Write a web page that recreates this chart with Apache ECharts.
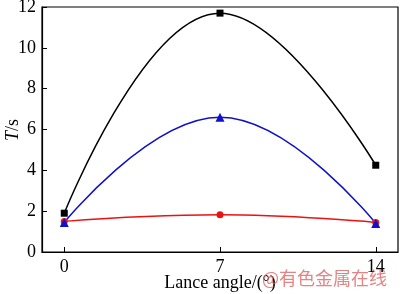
<!DOCTYPE html>
<html><head><meta charset="utf-8">
<script src="https://cdn.jsdelivr.net/npm/echarts@6/dist/echarts.min.js"></script>
<style>html,body{margin:0;padding:0;background:#fff}#c{width:400px;height:294px}</style>
</head><body><div id="c"></div>
<script>
var angles = [0, 7, 14];
var blackT = [1.9, 11.7, 4.25];
var blueT = [1.45, 6.6, 1.4];
var redT = [1.5, 1.82, 1.45];
var xTicks = [0, 7, 14];
var xName = 'Lance angle/(°)';
var watermark = '@有色金属在线';

function pairs(ys){ return angles.map(function(a,i){ return [a, ys[i]]; }); }
var font = 'Liberation Serif';
var chart = echarts.init(document.getElementById('c'));
chart.setOption({
  animation: false,
  grid: {left: 42, right: 2, top: 7, bottom: 42, show: true, borderColor: '#000', borderWidth: 1.2,
    containLabel: false, outerBoundsMode: 'none'},
  xAxis: {
    type: 'value', min: -1, max: 15,
    axisLine: {show: true, onZero: false, lineStyle: {color: '#000', width: 1.2}},
    axisTick: {show: true, inside: true, length: 5, lineStyle: {color: '#000'},
      customValues: xTicks},
    axisLabel: {fontFamily: font, fontSize: 18, color: '#000', margin: 6, customValues: xTicks},
    splitLine: {show: false}
  },
  yAxis: {
    type: 'value', min: 0, max: 12, interval: 2,
    axisLine: {show: true, onZero: false, lineStyle: {color: '#000', width: 1.2}},
    axisTick: {show: true, inside: true, length: 5, lineStyle: {color: '#000'}},
    axisLabel: {fontFamily: font, fontSize: 18, color: '#000', margin: 6},
    splitLine: {show: false}
  },
  series: [
    {type: 'line', data: pairs(blackT), smooth: 0.45, symbol: 'rect', symbolSize: 7,
      lineStyle: {color: '#000', width: 1.5}, itemStyle: {color: '#000'}},
    {type: 'line', data: pairs(redT), smooth: 0.45, symbol: 'circle', symbolSize: 7,
      lineStyle: {color: '#ee1111', width: 1.5}, itemStyle: {color: '#ee1111'}},
    {type: 'line', data: pairs(blueT), smooth: 0.45, symbol: 'triangle', symbolSize: 9,
      lineStyle: {color: '#1111cc', width: 1.5}, itemStyle: {color: '#1111cc'}}
  ],
  graphic: [
    {type: 'text', x: 220, y: 283,
      style: {text: xName, font: '18px "Liberation Serif"', fill: '#000', align: 'center', verticalAlign: 'middle'}},
    {type: 'text', x: 13, y: 130, rotation: Math.PI / 2,
      style: {text: '{i|T}{n|/s}', align: 'center', verticalAlign: 'middle', fill: '#000',
        rich: {i: {font: 'italic 18px "Liberation Serif"', fill: '#000'},
               n: {font: '18px "Liberation Serif"', fill: '#000'}}}},
    {type: 'text', left: 262, top: 269,
      style: {text: watermark, font: '18px "Noto Sans CJK SC"', fill: 'rgba(220,90,90,0.75)'}}
  ]
});
</script></body></html>
